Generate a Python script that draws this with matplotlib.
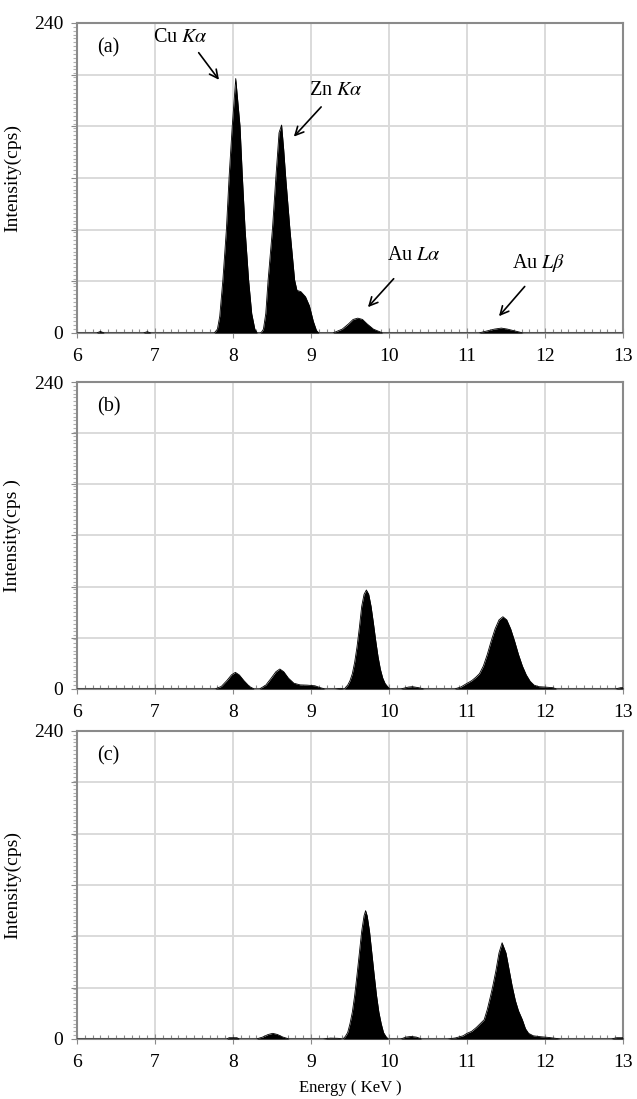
import numpy as np
import matplotlib
matplotlib.use("Agg")
import matplotlib.pyplot as plt
from matplotlib.ticker import MultipleLocator

plt.rcParams['font.family'] = ['Liberation Serif', 'DejaVu Serif']
plt.rcParams['mathtext.fontset'] = 'stix'

# EDS spectra, energy (KeV) vs intensity (cps), read as outline points
energy_a = [6.0, 6.25, 6.3, 6.35, 6.85, 6.9, 6.95, 7.5, 7.76, 7.80, 7.83, 7.87,
            7.915, 7.95, 7.99, 8.035, 8.09, 8.12, 8.155, 8.20, 8.24, 8.28, 8.31,
            8.35, 8.37, 8.39, 8.42, 8.45, 8.505, 8.55, 8.575, 8.59, 8.623, 8.65,
            8.675, 8.73, 8.79, 8.82, 8.87, 8.93, 8.98, 9.03, 9.07, 9.1, 9.28,
            9.40, 9.48, 9.54, 9.60, 9.66, 9.72, 9.80, 9.92, 11.15, 11.25, 11.35,
            11.44, 11.52, 11.62, 11.72, 13.0]
intensity_a = [0, 0, 1.2, 0, 0, 1, 0, 0, 0, 3, 13, 41,
               80, 121, 160, 197, 160, 121, 80, 41, 15, 3, 0,
               0, 1, 3, 15, 41, 80, 121, 142, 155, 161, 142,
               121, 80, 41, 33, 32, 28, 21, 9, 2, 0, 0,
               3, 7, 10.5, 11.5, 10.5, 7, 3, 0, 0, 1.5, 3,
               3.8, 3, 1.5, 0, 0]

energy_b = [6.0, 7.77, 7.85, 7.92, 7.98, 8.03, 8.08, 8.14, 8.21, 8.27, 8.34,
            8.42, 8.49, 8.55, 8.60, 8.65, 8.71, 8.78, 8.86, 8.95, 9.05, 9.12,
            9.18, 9.30, 9.38, 9.43, 9.44, 9.47, 9.50, 9.53, 9.56, 9.59, 9.62,
            9.65, 9.68, 9.71, 9.74, 9.77, 9.80, 9.83, 9.86, 9.89, 9.92, 9.95,
            9.98, 10.01, 10.15, 10.25, 10.3, 10.38, 10.45, 10.84, 10.92, 11.0,
            11.06, 11.11, 11.16, 11.21, 11.26, 11.31, 11.36, 11.41, 11.46,
            11.51, 11.56, 11.61, 11.66, 11.71, 11.76, 11.81, 11.86, 11.92,
            12.0, 12.1, 12.15, 12.9, 12.97, 13.0]
intensity_b = [0, 0, 2, 6.5, 11, 13, 11, 6.5, 2, 0, 0,
               3, 8.5, 13.5, 15.6, 13.5, 8.5, 4.5, 3.2, 3, 2.5, 1,
               0, 0, 0.5, 0, 1, 3, 6.5, 12, 21, 33, 48,
               64.6, 74, 77.4, 74, 64.6, 51.6, 37.7, 25.1, 15.3, 8.5, 4.3,
               2, 0, 0, 1.5, 1.8, 1, 0, 0, 1.5, 4.4,
               6.5, 9, 12, 18, 27, 37.5, 47, 54, 56.5,
               54, 47, 37.5, 27, 18, 11, 6, 3, 1.8,
               1.5, 1, 0, 0, 1, 1]

energy_c = [6.0, 7.92, 7.95, 8.05, 8.08, 8.30, 8.38, 8.45, 8.51, 8.57, 8.64,
            8.72, 9.15, 9.25, 9.35, 9.41, 9.44, 9.47, 9.50, 9.53, 9.56, 9.59,
            9.62, 9.65, 9.68, 9.70, 9.72, 9.75, 9.78, 9.81, 9.84, 9.87, 9.90,
            9.93, 9.96, 9.99, 10.15, 10.22, 10.28, 10.35, 10.42, 10.75, 10.85,
            10.95, 11.0, 11.06, 11.12, 11.17, 11.22, 11.26, 11.30, 11.33, 11.37,
            11.41, 11.45, 11.50, 11.54, 11.58, 11.62, 11.66, 11.71, 11.75,
            11.79, 11.85, 11.94, 12.05, 12.2, 12.85, 12.92, 13.0]
intensity_c = [0, 0, 1, 1, 0, 0, 1.5, 3.5, 4.4, 3.5, 1.5,
               0, 0, 0.7, 0.5, 0, 2, 5, 12, 21, 34, 50,
               67, 84, 96, 100, 96, 84, 67, 50, 34, 21, 12,
               5, 2, 0, 0, 1.5, 2, 1.5, 0, 0, 0.8,
               2.5, 4.4, 6, 9, 12, 15, 23, 33, 41, 53,
               67, 75, 67, 54, 41, 30, 22, 15, 8,
               4.4, 2.5, 1.8, 1.2, 0, 0, 1, 1]

panel_tags = ['(a)', '(b)', '(c)']
ylabels = ['Intensity(cps)', 'Intensity(cps )', 'Intensity(cps)']

# peak labels for panel (a): text, text position, arrow tail, arrow head
peak_names = [r'Cu $K\alpha$', r'Zn $K\alpha$', r'Au $L\alpha$', r'Au $L\beta$']
name_pos = [(7.33, 229), (9.32, 188), (10.32, 60), (11.92, 54)]
arrow_tail = [(7.56, 217), (9.13, 175), (10.06, 42), (11.74, 36)]
arrow_head = [(7.82, 196), (8.78, 152), (9.73, 20), (11.41, 13)]

# axes boxes in figure fractions: left, bottom, width, height
boxes = [[0.1209, 0.6970, 0.8571, 0.2821],
         [0.1209, 0.3731, 0.8571, 0.2793],
         [0.1209, 0.0546, 0.8571, 0.2803]]

GRID = '#dadada'
FRAME = '#8a8a8a'


def style_axes(ax, tag, ylabel):
    ax.set_xlim(6, 13)
    ax.set_ylim(0, 240)
    ax.set_axisbelow(True)
    ax.xaxis.set_major_locator(MultipleLocator(1))
    ax.xaxis.set_minor_locator(MultipleLocator(0.1))
    ax.set_yticks(range(0, 241, 40))
    ax.set_yticklabels(['0', '', '', '', '', '', '240'])
    ax.yaxis.set_minor_locator(MultipleLocator(3))
    ax.grid(True, which='major', color=GRID, lw=1.4)
    for side in ['top', 'right', 'left', 'bottom']:
        ax.spines[side].set_color(FRAME)
        ax.spines[side].set_linewidth(1.5)
    ax.tick_params(axis='x', which='major', direction='inout', length=7,
                   color=FRAME, labelsize=14, pad=7)
    ax.tick_params(axis='x', which='minor', direction='in', length=3,
                   color=FRAME, width=0.8)
    ax.tick_params(axis='y', which='major', direction='out', length=4,
                   color=FRAME, labelsize=14, pad=6)
    ax.tick_params(axis='y', which='minor', direction='out', length=3,
                   color='#b0b0b0', width=0.8)
    ax.set_ylabel(ylabel, fontsize=14)
    ax.yaxis.set_label_coords(-0.103, 0.5)
    ax.text(0.037, 0.92, tag, transform=ax.transAxes, fontsize=14.5,
            ha='left', va='center')


def draw_spectrum(ax, energy, intensity):
    ax.fill_between(energy, intensity, 0, color='black', lw=0, zorder=3)
    ax.plot(energy, intensity, color='black', lw=0.6, zorder=3)


fig = plt.figure(figsize=(6.37, 10.99), dpi=100)
spectra = [(energy_a, intensity_a), (energy_b, intensity_b), (energy_c, intensity_c)]

axes = []
for box, (e, i), tag, yl in zip(boxes, spectra, panel_tags, ylabels):
    ax = fig.add_axes(box)
    style_axes(ax, tag, yl)
    draw_spectrum(ax, e, i)
    axes.append(ax)

for name, tp, tail, head in zip(peak_names, name_pos, arrow_tail, arrow_head):
    axes[0].text(tp[0], tp[1], name, fontsize=14.5, ha='center', va='center')
    axes[0].annotate('', xy=head, xytext=tail,
                     arrowprops=dict(arrowstyle='->', color='black', lw=1.2,
                                     mutation_scale=15, shrinkA=0, shrinkB=0))

axes[2].set_xlabel('Energy ( KeV )', fontsize=12, labelpad=7)

fig.savefig('out.png', dpi=100)
